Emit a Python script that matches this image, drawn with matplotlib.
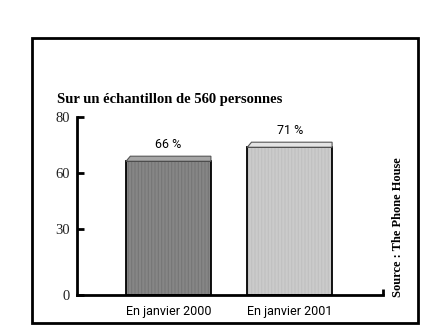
import numpy as np
from matplotlib import pyplot as plt
from matplotlib.patches import Polygon, Rectangle

# Sample data
categories = ['En janvier 2000', 'En janvier 2001']
values = [66, 71]
value_labels = ['66 %', '71 %']
title = 'Sur un échantillon de 560 personnes'
source = 'Source : The Phone House'

# uneven vertical axis: tick values and their heights (in pixels)
tick_vals = [0, 30, 60, 80]
tick_pos = [0, 66, 122, 178]


def forward(v):
    return np.interp(v, tick_vals, tick_pos)


def inverse(p):
    return np.interp(p, tick_pos, tick_vals)


front_colors = ['#868686', '#cbcbcb']
stripe_colors = ['#767676', '#c0c0c0']
cap_colors = ['#a6a6a6', '#e4e4e4']

serif = ['Liberation Serif', 'DejaVu Serif']
narrow = dict(family=['Roboto', 'DejaVu Sans'])

plt.rcParams['hatch.linewidth'] = 0.8

fig = plt.figure(figsize=(4.32, 3.34), dpi=100)
ax = fig.add_axes([77/432, 39/334, 306/432, 178/334])

ax.set_yscale('function', functions=(forward, inverse))
ax.set_ylim(0, 80)
ax.set_xlim(-0.755, 1.77)

width = 0.70
cap_h = 1.8      # depth of the top face, in value units
slant = 0.035    # horizontal shift of the top face
for i, v in enumerate(values):
    x0 = i - width/2
    x1 = i + width/2
    # striped fill, then the black outline on top
    ax.bar(i, v - cap_h, width=width, color=front_colors[i],
           edgecolor=stripe_colors[i], hatch='|||||', linewidth=0, zorder=2)
    ax.bar(i, v - cap_h, width=width, fill=False,
           edgecolor='black', linewidth=1.3, zorder=2)
    cap = Polygon([(x0, v - cap_h), (x0 + slant, v), (x1, v), (x1, v - cap_h)],
                  closed=True, facecolor=cap_colors[i], edgecolor='#555555',
                  linewidth=0.8, zorder=3)
    ax.add_patch(cap)
    ax.annotate(value_labels[i], (i, v), xytext=(0, 4), textcoords='offset points',
                ha='center', va='bottom', fontsize=9, **narrow)

ax.set_yticks(tick_vals)
ax.set_yticklabels([str(t) for t in tick_vals], family=serif, fontsize=10.5,
                   color='#222222')
ax.set_xticks(range(len(categories)))
ax.set_xticklabels(categories, fontsize=9, **narrow)
ax.set_xticks([1.77], minor=True)
ax.tick_params(axis='y', direction='in', length=5, width=2, pad=5)
ax.tick_params(axis='x', which='major', length=0, pad=7)
ax.tick_params(axis='x', which='minor', direction='in', length=4, width=2)

for side in ['top', 'right']:
    ax.spines[side].set_visible(False)
ax.spines['left'].set_linewidth(2)
ax.spines['bottom'].set_linewidth(2)

fig.text(57/432, 1 - 100/334, title, family=serif, fontweight='bold',
         fontsize=10.5, ha='left', va='center')
fig.text(398/432, 1 - 227/334, source, family=serif, fontweight='bold',
         fontsize=9, rotation=90, ha='center', va='center')

# frame around the whole graphic
fig.patches.append(Rectangle((32/432, 1 - 323/334), 386/432, 285/334,
                             transform=fig.transFigure, fill=False,
                             edgecolor='black', linewidth=2))

fig.savefig('out.png', dpi=100)
